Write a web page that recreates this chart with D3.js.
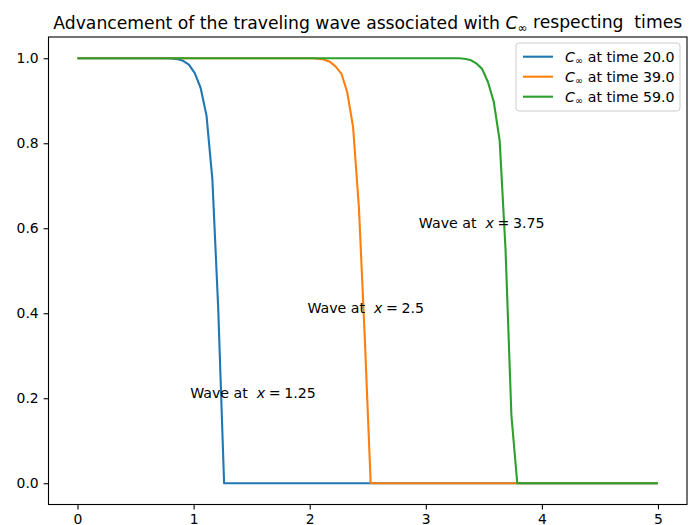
<!DOCTYPE html>
<html>
<head>
<meta charset="utf-8">
<script src="https://cdn.jsdelivr.net/npm/d3@7"></script>
<style>
  body { margin: 0; background: #fff; }
  svg { font-family: "DejaVu Sans", sans-serif; }
</style>
</head>
<body>
<svg></svg>
<script>
const width = 697;
const height = 525;
const margin = { top: 37, right: 10, bottom: 20.5, left: 48.5 };

const colors = ["#1f77b4", "#ff7f0e", "#2ca02c"];

// Grid of 100 points from 0 to 5
const xGrid = d3.range(100).map((i) => (i * 5) / 99);

// Series values (one value per grid point)
const waveT20 = [
  1, 1, 1, 1, 1, 1, 1, 1, 1, 1, 1, 1, 1, 1, 1, 1, 0.9995, 0.998, 0.994, 0.985,
  0.965, 0.93, 0.865, 0.715, 0.41, 0, 0, 0, 0, 0, 0, 0, 0, 0, 0, 0, 0, 0, 0, 0,
  0, 0, 0, 0, 0, 0, 0, 0, 0, 0, 0, 0, 0, 0, 0, 0, 0, 0, 0, 0,
  0, 0, 0, 0, 0, 0, 0, 0, 0, 0, 0, 0, 0, 0, 0, 0, 0, 0, 0, 0,
  0, 0, 0, 0, 0, 0, 0, 0, 0, 0, 0, 0, 0, 0, 0, 0, 0, 0, 0, 0,
];
const waveT39 = [
  1, 1, 1, 1, 1, 1, 1, 1, 1, 1, 1, 1, 1, 1, 1, 1, 1, 1, 1, 1,
  1, 1, 1, 1, 1, 1, 1, 1, 1, 1, 1, 1, 1, 1, 1, 1, 1, 1, 1, 1,
  1, 0.999, 0.997, 0.992, 0.981, 0.964, 0.92, 0.838, 0.647, 0.34,
  0, 0, 0, 0, 0, 0, 0, 0, 0, 0, 0, 0, 0, 0, 0, 0, 0, 0, 0, 0,
  0, 0, 0, 0, 0, 0, 0, 0, 0, 0, 0, 0, 0, 0, 0, 0, 0, 0, 0, 0,
  0, 0, 0, 0, 0, 0, 0, 0, 0, 0,
];
const waveT59 = [
  1, 1, 1, 1, 1, 1, 1, 1, 1, 1, 1, 1, 1, 1, 1, 1, 1, 1, 1, 1,
  1, 1, 1, 1, 1, 1, 1, 1, 1, 1, 1, 1, 1, 1, 1, 1, 1, 1, 1, 1,
  1, 1, 1, 1, 1, 1, 1, 1, 1, 1, 1, 1, 1, 1, 1, 1, 1, 1, 1, 1,
  1, 1, 1, 1, 1, 1, 0.999, 0.996, 0.988, 0.975, 0.944, 0.897, 0.806, 0.55, 0.16,
  0, 0, 0, 0, 0, 0, 0, 0, 0, 0, 0, 0, 0, 0, 0, 0, 0, 0, 0, 0,
  0, 0, 0, 0, 0,
];

const times = ["20.0", "39.0", "59.0"];
const xTicks = [0, 1, 2, 3, 4, 5];
const yTicks = [0, 0.2, 0.4, 0.6, 0.8, 1.0];

// Annotations: text anchor position and the label value
const noteX = [0.97, 1.98, 2.94];
const noteY = [0.2, 0.4, 0.6];
const noteLabels = ["1.25", "2.5", "3.75"];

const svg = d3.select("svg").attr("width", width).attr("height", height);

const x = d3
  .scaleLinear()
  .domain([-0.25, 5.25])
  .range([margin.left, width - margin.right]);

const y = d3
  .scaleLinear()
  .domain([-0.05, 1.05])
  .range([height - margin.bottom, margin.top]);

// Lines
const line = d3
  .line()
  .x((d) => x(d[0]))
  .y((d) => y(d[1]));

const seriesList = [waveT20, waveT39, waveT59];

svg
  .append("g")
  .selectAll("path")
  .data(seriesList)
  .join("path")
  .attr("fill", "none")
  .attr("stroke", (d, i) => colors[i])
  .attr("stroke-width", 2.1)
  .attr("stroke-linejoin", "round")
  .attr("d", (vals) => line(vals.map((v, i) => [xGrid[i], v])));

// Axes
const xAxis = (g) =>
  g
    .attr("transform", `translate(0,${height - margin.bottom})`)
    .call(
      d3.axisBottom(x).tickValues(xTicks).tickFormat(d3.format("d"))
        .tickSizeOuter(0).tickSize(4.9).tickPadding(4.9)
    )
    .call((g) => g.select(".domain").remove())
    .style("font-size", "13.9px")
    .style("font-family", "DejaVu Sans");

const yAxis = (g) =>
  g
    .attr("transform", `translate(${margin.left},0)`)
    .call(
      d3.axisLeft(y).tickValues(yTicks).tickFormat(d3.format(".1f"))
        .tickSizeOuter(0).tickSize(4.9).tickPadding(4.9)
    )
    .call((g) => g.select(".domain").remove())
    .style("font-size", "13.9px")
    .style("font-family", "DejaVu Sans");

svg.append("g").call(xAxis);
svg.append("g").call(yAxis);
svg.selectAll(".tick line").attr("stroke-width", 1.1).attr("stroke", "#000");
svg.selectAll(".tick text").attr("fill", "#000");

// Frame
svg
  .append("rect")
  .attr("x", margin.left)
  .attr("y", margin.top)
  .attr("width", width - margin.left - margin.right)
  .attr("height", height - margin.top - margin.bottom)
  .attr("fill", "none")
  .attr("stroke", "#000")
  .attr("stroke-width", 1.1);

// Helper: writes "C∞" with italic C and small subscript
function addCinf(text) {
  text.append("tspan").style("font-style", "italic").text("C");
  text
    .append("tspan")
    .attr("dy", "0.25em")
    .style("font-size", "0.7em")
    .text("\u221E");
}

// Title
const title = svg
  .append("text")
  .attr("x", (margin.left + width - margin.right) / 2)
  .attr("y", 28.5)
  .attr("text-anchor", "middle")
  .style("font-size", "17.2px");
title.append("tspan").text("Advancement of the traveling wave associated with ");
addCinf(title);
title.append("tspan").attr("dy", "-0.18em").text("\u00A0respecting \u00A0times");

// Annotations
noteLabels.forEach((lab, i) => {
  const t = svg
    .append("text")
    .attr("x", x(noteX[i]))
    .attr("y", y(noteY[i]))
    .style("font-size", "14.2px")
    .attr("fill", "#000");
  t.append("tspan").text("Wave at \u00A0");
  t.append("tspan").style("font-style", "italic").text("x");
  t.append("tspan").text("\u2005=\u2005" + lab);
});

// Legend
const legendBox = { x: 516, y: 43, w: 164, h: 68 };
svg
  .append("rect")
  .attr("x", legendBox.x)
  .attr("y", legendBox.y)
  .attr("width", legendBox.w)
  .attr("height", legendBox.h)
  .attr("rx", 3)
  .attr("fill", "#fff")
  .attr("fill-opacity", 0.8)
  .attr("stroke", "#ccc")
  .attr("stroke-width", 1);

const legend = svg
  .selectAll(".legend")
  .data(times)
  .join("g")
  .attr("class", "legend")
  .attr("transform", (d, i) => `translate(${legendBox.x + 7},${56.7 + i * 20})`);

legend
  .append("line")
  .attr("x1", 0)
  .attr("x2", 30)
  .attr("stroke", (d, i) => colors[i])
  .attr("stroke-width", 2.1);

legend.each(function (d) {
  const t = d3
    .select(this)
    .append("text")
    .attr("x", 42)
    .attr("y", 5)
    .style("font-size", "14.2px")
    .attr("fill", "#000");
  addCinf(t);
  t.append("tspan").attr("dy", "-0.18em").text(" at time " + d);
});
</script>
</body>
</html>
